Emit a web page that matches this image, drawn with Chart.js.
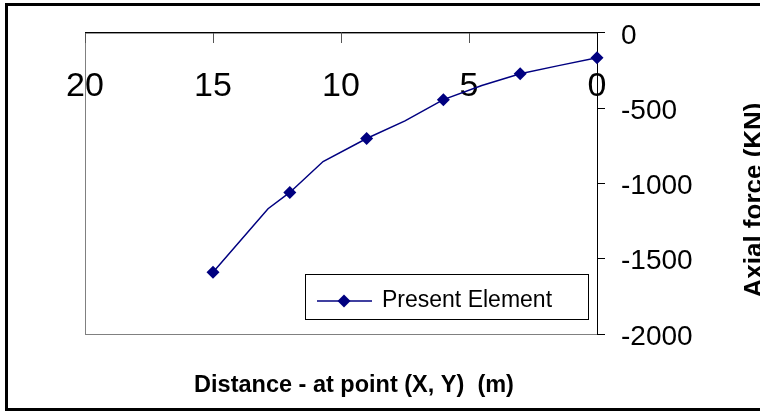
<!DOCTYPE html>
<html>
<head>
<meta charset="utf-8">
<title>Axial force</title>
<script src="https://cdn.jsdelivr.net/npm/chart.js"></script>
<style>
  body { margin: 0; background: #fff; }
  canvas { display: block; }
</style>
</head>
<body>
<canvas id="axial" width="760" height="412"></canvas>
<script>
// distance along the element (m) and the axial force there (KN)
const distance = [0, 1.5, 3, 4.5, 6, 7.5, 9, 10.7, 12, 12.85, 15];
const axialForce = [-166, -218, -272, -350, -444, -585, -702, -855, -1060, -1168, -1590];
const seriesName = 'Present Element';
const xTitle = 'Distance - at point (X, Y)  (m)';
const yTitle = 'Axial force (KN)';

const FONT = '"Liberation Sans", Arial, sans-serif';
const NAVY = '#000080';

function diamond(ctx, x, y, r) {
    ctx.beginPath();
    ctx.moveTo(x, y - r);
    ctx.lineTo(x + r, y);
    ctx.lineTo(x, y + r);
    ctx.lineTo(x - r, y);
    ctx.closePath();
    ctx.fill();
}

// white background, outer frame, plot border, titles and the inside legend
const decorations = {
    id: 'decorations',
    beforeDraw(chart) {
        const {ctx, chartArea: a} = chart;
        ctx.save();
        ctx.fillStyle = '#fff';
        ctx.fillRect(0, 0, chart.width, chart.height);
        ctx.strokeStyle = '#000';
        ctx.lineWidth = 3;
        ctx.strokeRect(6.5, 4.5, chart.width + 10, 405);
        ctx.strokeStyle = '#808080';
        ctx.lineWidth = 1;
        ctx.strokeRect(a.left + 0.5, a.top + 0.5, a.width, a.height);
        ctx.restore();
    },
    afterDraw(chart) {
        const {ctx, chartArea: a} = chart;
        const ds = chart.data.datasets[0];
        ctx.save();
        ctx.fillStyle = '#000';

        // axis titles
        ctx.font = 'bold 23.5px ' + FONT;
        ctx.textAlign = 'center';
        ctx.textBaseline = 'alphabetic';
        ctx.fillText(xTitle, 354, 392);

        ctx.save();
        ctx.translate(762, 200);
        ctx.rotate(-Math.PI / 2);
        ctx.font = 'bold 26px ' + FONT;
        ctx.fillText(yTitle, 0, 0);
        ctx.restore();

        // legend box
        const lx = a.right - 292, ly = a.bottom - 60;
        ctx.strokeStyle = '#000';
        ctx.lineWidth = 1;
        ctx.strokeRect(lx + 0.5, ly + 0.5, 283, 45);
        ctx.strokeStyle = ds.borderColor;
        ctx.lineWidth = ds.borderWidth;
        ctx.beginPath();
        ctx.moveTo(lx + 12, ly + 27);
        ctx.lineTo(lx + 67, ly + 27);
        ctx.stroke();
        ctx.fillStyle = ds.backgroundColor;
        diamond(ctx, lx + 39, ly + 27, 6.5);
        ctx.fillStyle = '#000';
        ctx.font = '23px ' + FONT;
        ctx.textAlign = 'left';
        ctx.fillText(ds.label, lx + 77, ly + 33);
        ctx.restore();
    }
};

const points = distance.map((d, i) => ({x: d, y: axialForce[i]}));

new Chart(document.getElementById('axial'), {
    type: 'line',
    data: {
        datasets: [{
            label: seriesName,
            data: points,
            borderColor: NAVY,
            backgroundColor: NAVY,
            borderWidth: 1.5,
            pointStyle: 'rectRot',
            // markers only on the computed stations (every 3 m)
            pointRadius: c => (c.raw && c.raw.x % 3 === 0 ? 6.5 : 0),
            pointBorderWidth: 0,
            tension: 0,
            clip: false
        }]
    },
    options: {
        responsive: false,
        animation: false,
        layout: { padding: { left: 85, top: 32, right: 0, bottom: 78 } },
        plugins: {
            legend: { display: false },
            tooltip: { enabled: false }
        },
        scales: {
            x: {
                type: 'linear',
                reverse: true,
                min: 0,
                max: 20,
                position: { y: 0 },
                ticks: {
                    stepSize: 5,
                    color: '#000',
                    font: { family: FONT, size: 34 },
                    padding: 23,
                    maxRotation: 0,
                    autoSkip: false
                },
                grid: { drawOnChartArea: false, tickLength: 10, color: '#555' },
                border: { color: '#000', width: 1 }
            },
            y: {
                type: 'linear',
                position: 'right',
                min: -2000,
                max: 0,
                ticks: {
                    stepSize: 500,
                    color: '#000',
                    font: { family: FONT, size: 28 },
                    padding: 16,
                    labelOffset: 3,
                    callback: v => String(v)
                },
                grid: { drawOnChartArea: false, tickLength: 8, color: '#000' },
                border: { color: '#000', width: 1 },
                afterFit(scale) { scale.width = 163; }
            }
        }
    },
    plugins: [decorations]
});
</script>
</body>
</html>
